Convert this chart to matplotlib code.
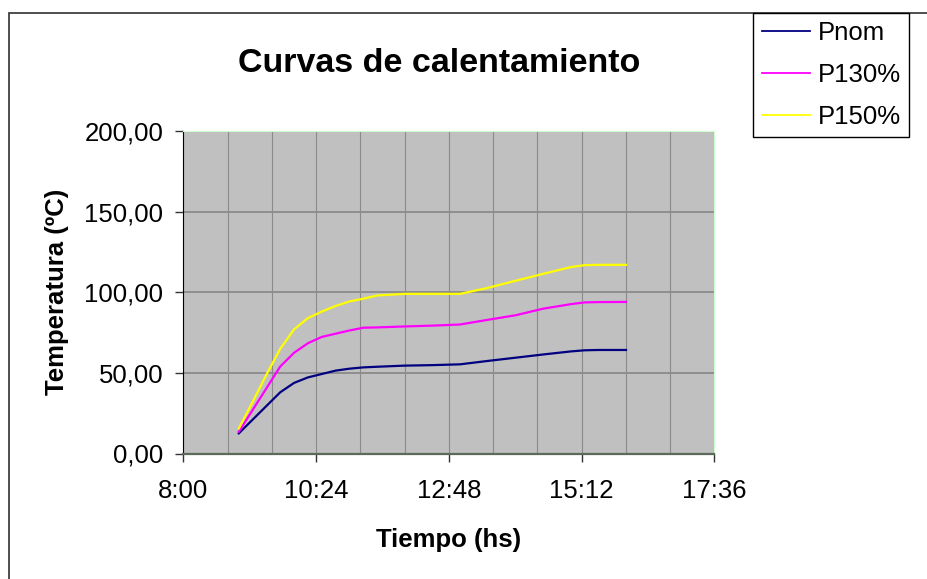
import matplotlib
matplotlib.use("Agg")
import matplotlib.pyplot as plt
import matplotlib.ticker as mticker
from matplotlib.patches import Rectangle
import numpy as np

plt.rcParams['font.family'] = ['Liberation Sans', 'DejaVu Sans']

# hora de cada medicion
tiempos = ["9:00", "9:15", "9:30", "9:45", "10:00", "10:15", "10:30", "10:45",
           "11:00", "11:15", "11:30", "12:00", "12:30", "13:00", "13:30",
           "14:00", "14:30", "15:00", "15:15", "15:30", "16:00"]
# temperaturas (ºC)
pnom = [12.5, 21.0, 29.5, 38.0, 43.8, 47.2, 49.3, 51.4, 52.6, 53.4, 53.8,
        54.5, 54.8, 55.3, 57.4, 59.4, 61.4, 63.3, 64.0, 64.2, 64.2]
p130 = [13.5, 27.0, 40.5, 54.0, 62.5, 68.4, 72.3, 74.3, 76.3, 78.0, 78.2,
        78.8, 79.3, 80.0, 82.9, 85.7, 89.8, 92.6, 93.7, 93.9, 94.0]
p150 = [15.5, 32.0, 49.0, 65.0, 77.0, 84.0, 88.0, 91.5, 94.3, 96.0, 98.0,
        99.0, 99.0, 99.0, 102.7, 107.1, 111.4, 115.6, 116.8, 117.0, 117.0]
series = ["Pnom", "P130%", "P150%"]
colores = ["#000080", "#FF00FF", "#FFFF00"]


def a_dia(s):
    # igual que Excel: fraccion del dia
    h, m = s.split(":")
    return (int(h) + int(m) / 60.0) / 24.0


def fmt_hora(v, pos):
    mins = int(round(v * 24 * 60))
    return "%d:%02d" % (mins // 60, mins % 60)


x = [a_dia(t) for t in tiempos]
xmin, xmax = a_dia("8:00"), a_dia("17:36")

fig = plt.figure(figsize=(9.28, 5.79), dpi=100)
ax = fig.add_axes([183.5 / 928, 1 - 453.5 / 579, 531 / 928, 322.5 / 579])
ax.set_facecolor("#C0C0C0")

for datos, nombre, col in zip([pnom, p130, p150], series, colores):
    ax.plot(x, datos, color=col, linewidth=1.6, label=nombre)

ax.set_xlim(xmin, xmax)
ax.set_ylim(0, 200)
# unidad mayor 0,1 dia (2:24) y menor 0:48, a partir del minimo como Excel
ax.xaxis.set_major_locator(mticker.FixedLocator(xmin + 0.1 * np.arange(5)))
ax.xaxis.set_minor_locator(mticker.FixedLocator(xmin + 0.1 / 3 * np.arange(13)))
ax.xaxis.set_major_formatter(mticker.FuncFormatter(fmt_hora))
ax.yaxis.set_major_locator(mticker.MultipleLocator(50))
ax.yaxis.set_major_formatter(mticker.FuncFormatter(lambda v, p: ("%.2f" % v).replace(".", ",")))

ax.grid(axis="x", which="both", color="#8a8a8a", linewidth=0.8)
ax.grid(axis="y", which="major", color="#8a8a8a", linewidth=1.3)
ax.set_axisbelow(True)

ax.tick_params(axis="x", which="minor", length=0)
ax.tick_params(axis="both", which="major", direction="out", length=6, width=1,
               color="#333333", labelsize=18.5)
ax.tick_params(axis="y", pad=8.5)
ax.tick_params(axis="x", pad=12)

ax.spines["left"].set_color("black")
ax.spines["bottom"].set_color("#5a6b5a")
ax.spines["bottom"].set_linewidth(1.6)
ax.spines["top"].set_color("#ccffcc")
ax.spines["right"].set_color("#ccffcc")

ax.set_xlabel("Tiempo (hs)", fontsize=18.5, fontweight="bold")
ax.xaxis.set_label_coords(0.5, -0.232)
ax.set_ylabel("Temperatura (ºC)", fontsize=18.5, fontweight="bold")
ax.yaxis.set_label_coords(-0.216, 0.5)

fig.text(439 / 928, 1 - 72 / 579, "Curvas de calentamiento", fontsize=24.5,
         fontweight="bold", ha="center", va="baseline")

# borde del area del grafico
fig.patches.append(Rectangle((9 / 928, -0.1), 1.2, 1 - 12.7 / 579 + 0.1,
                             transform=fig.transFigure, fill=False,
                             edgecolor="#404040", linewidth=1.3))

leg = fig.legend(loc="upper left", bbox_to_anchor=(753.3 / 928, 1 - 12.7 / 579),
                 fontsize=18.5, frameon=True, fancybox=False, framealpha=1,
                 edgecolor="black", handlelength=1.9, handletextpad=0.28,
                 borderpad=0.32, labelspacing=0.7, borderaxespad=0)
leg.get_frame().set_linewidth(1.0)
for ln in leg.get_lines():
    ln.set_linewidth(1.3)

fig.savefig("out.png", dpi=100)
